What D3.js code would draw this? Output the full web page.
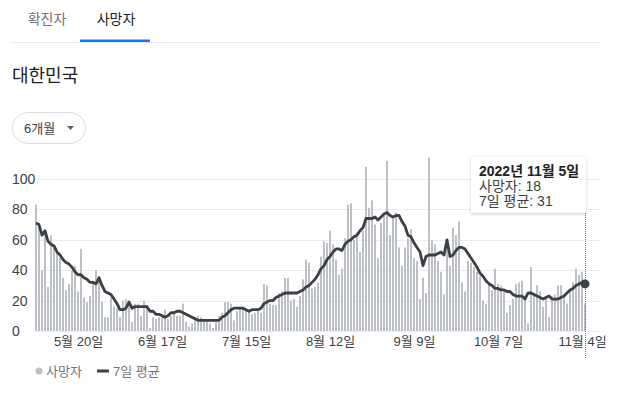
<!DOCTYPE html>
<html>
<head>
<meta charset="utf-8">
<script src="https://cdn.jsdelivr.net/npm/d3@7"></script>
<style>
  body { margin: 0; background: #fff; }
  svg { font-family: Arial, "Liberation Sans", "Noto Sans CJK KR", sans-serif; }
</style>
</head>
<body>
<div id="root"></div>
<script>
var config = {
  width: 617,
  height: 395
};

// daily deaths from 2022-05-06 to 2022-11-05
const startDate = new Date(2022, 4, 6);
const deaths = [
  83, 70, 40, 66, 29, 63, 56, 52, 48, 35,
  27, 31, 40, 43, 26, 54, 22, 19, 23, 33,
  40, 36, 19, 9, 9, 22, 16, 15, 9, 20,
  21, 20, 6, 18, 18, 10, 20, 17, 2, 9,
  8, 9, 10, 14, 8, 10, 12, 10, 10, 18,
  6, 3, 5, 7, 10, 9, 7, 8, 5, 2,
  6, 10, 12, 19, 19, 18, 7, 13, 15, 16,
  14, 14, 11, 12, 14, 12, 31, 30, 18, 17,
  17, 25, 26, 35, 35, 20, 21, 16, 23, 34,
  47, 45, 28, 29, 32, 49, 59, 58, 66, 57,
  47, 37, 41, 61, 83, 84, 60, 65, 52, 66,
  108, 81, 86, 70, 48, 71, 76, 112, 63, 75,
  78, 55, 43, 55, 61, 67, 48, 46, 21, 35,
  25, 114, 60, 57, 46, 39, 24, 60, 43, 68,
  63, 72, 32, 26, 46, 45, 42, 39, 36, 20,
  18, 31, 27, 41, 31, 30, 26, 12, 17, 21,
  31, 32, 33, 21, 5, 42, 25, 30, 26, 16,
  23, 9, 23, 24, 30, 30, 23, 18, 27, 32,
  41, 37, 39, 18
];

// 7-day average as drawn
const average = [
  71, 70, 63, 66, 59, 57, 56, 52, 50, 47,
  45, 44, 42, 39, 37, 37, 35, 34, 32, 32,
  31, 35, 30, 26, 25, 24, 21, 18, 14, 14,
  15, 19, 15, 16, 16, 16, 16, 16, 13, 13,
  11, 11, 10, 9, 10, 12, 12, 13, 13, 12,
  11, 10, 9, 8, 7, 7, 7, 7, 7, 7,
  7, 7, 9, 10, 12, 14, 15, 15, 15, 15,
  14, 13, 14, 14, 14, 15, 18, 19, 20, 20,
  22, 23, 24, 25, 25, 25, 25, 25, 26, 27,
  29, 30, 32, 34, 37, 41, 43, 47, 49, 52,
  54, 54, 53, 57, 59, 60, 62, 63, 66, 68,
  74, 74, 74, 75, 73, 75, 77, 78, 76, 75,
  76, 76, 72, 69, 63, 62, 58, 55, 52, 43,
  49, 50, 50, 50, 51, 52, 50, 60, 49, 50,
  53, 55, 55, 54, 51, 48, 45, 42, 38, 36,
  33, 31, 30, 28, 28, 27, 27, 26, 26, 24,
  23, 23, 23, 21, 25, 25, 24, 23, 22, 21,
  22, 23, 21, 21, 21, 22, 23, 25, 27, 28,
  30, 31, 32, 31
];

const yTicks = [0, 20, 40, 60, 80, 100];
const xTickDates = [
  new Date(2022, 4, 20), new Date(2022, 5, 17), new Date(2022, 6, 15),
  new Date(2022, 7, 12), new Date(2022, 8, 9), new Date(2022, 9, 7),
  new Date(2022, 10, 4)
];
const tabs = ['확진자', '사망자'];
const legendLabels = ['사망자', '7일 평균'];

const data = deaths.map((v, i) => ({
  date: d3.timeDay.offset(startDate, i),
  value: v,
  avg: average[i]
}));
const last = data[data.length - 1];

const svg = d3.select('#root')
  .append('svg')
  .attr('width', config.width)
  .attr('height', config.height);

// drop shadow for the tooltip
const defs = svg.append('defs');
defs.append('filter')
  .attr('id', 'shadow')
  .attr('x', '-10%').attr('y', '-10%')
  .attr('width', '130%').attr('height', '140%')
  .append('feDropShadow')
    .attr('dx', 0).attr('dy', 1)
    .attr('stdDeviation', 1.5)
    .attr('flood-color', '#000')
    .attr('flood-opacity', 0.2);

////// HEADER //////
svg.append('line')
  .attr('x1', 10).attr('x2', 600)
  .attr('y1', 42.5).attr('y2', 42.5)
  .attr('stroke', '#e8eaed');

svg.selectAll('.tab')
  .data(tabs)
  .enter()
    .append('text')
    .attr('x', (d, i) => i === 0 ? 47 : 116)
    .attr('y', 24)
    .attr('text-anchor', 'middle')
    .attr('font-size', 14)
    .attr('fill', (d, i) => i === 0 ? '#70757a' : '#202124')
    .text(d => d);

svg.append('rect')
  .attr('x', 80).attr('y', 39.5)
  .attr('width', 70).attr('height', 2.5)
  .attr('fill', '#1a73e8');

svg.append('text')
  .attr('x', 12).attr('y', 82)
  .attr('font-size', 18)
  .attr('fill', '#202124')
  .text('대한민국');

svg.append('rect')
  .attr('x', 12.5).attr('y', 112.5)
  .attr('width', 73).attr('height', 31)
  .attr('rx', 15.5)
  .attr('fill', '#fff')
  .attr('stroke', '#dadce0');

svg.append('text')
  .attr('x', 24).attr('y', 133)
  .attr('font-size', 13)
  .attr('fill', '#3c4043')
  .text('6개월');

svg.append('path')
  .attr('d', 'M67,126 L74,126 L70.5,130 Z')
  .attr('fill', '#5f6368');

////// CHART //////
const x = d3.scaleTime()
  .domain([startDate, last.date])
  .range([36, 585]);

const y = d3.scaleLinear()
  .domain([0, 100])
  .range([331, 179]);

// gridlines + y labels
const grid = svg.append('g');
grid.selectAll('line')
  .data(yTicks)
  .enter()
    .append('line')
    .attr('x1', 36).attr('x2', 600)
    .attr('y1', d => Math.round(y(d)) + 0.5)
    .attr('y2', d => Math.round(y(d)) + 0.5)
    .attr('stroke', '#ececec');

grid.selectAll('text')
  .data(yTicks)
  .enter()
    .append('text')
    .attr('x', 12)
    .attr('y', d => y(d))
    .attr('dy', '0.35em')
    .attr('font-size', 14)
    .attr('fill', '#3c4043')
    .text(d => d);

// bars
svg.append('g')
  .selectAll('rect')
  .data(data)
  .enter()
    .append('rect')
    .attr('x', d => x(d.date) - 1)
    .attr('y', d => y(d.value))
    .attr('width', 2)
    .attr('height', d => y(0) - y(d.value))
    .attr('fill', '#bdc1c6');

// x axis
const xAxis = svg.append('g')
  .attr('transform', `translate(0,${y(0)})`)
  .call(d3.axisBottom(x)
    .tickValues(xTickDates)
    .tickSize(0)
    .tickPadding(6)
    .tickFormat(d => `${d.getMonth() + 1}월 ${d.getDate()}일`));
xAxis.select('.domain').remove();
xAxis.selectAll('text')
  .attr('font-size', 13)
  .attr('font-family', 'Arial, "Liberation Sans", "Noto Sans CJK KR", sans-serif')
  .attr('fill', '#3c4043');

// hover line
svg.append('line')
  .attr('x1', x(last.date) + 0.5).attr('x2', x(last.date) + 0.5)
  .attr('y1', 213).attr('y2', 358)
  .attr('stroke', '#70757a')
  .attr('stroke-dasharray', '1,1');

// 7-day average line
svg.append('path')
  .datum(data)
  .attr('d', d3.line().x(d => x(d.date)).y(d => y(d.avg)))
  .attr('fill', 'none')
  .attr('stroke', '#3c4043')
  .attr('stroke-width', 2.8)
  .attr('stroke-linejoin', 'round');

svg.append('circle')
  .attr('cx', x(last.date))
  .attr('cy', y(last.avg))
  .attr('r', 4.5)
  .attr('fill', '#3c4043');

// tooltip
const tip = svg.append('g');
tip.append('rect')
  .attr('x', 471).attr('y', 157)
  .attr('width', 115).attr('height', 56)
  .attr('fill', '#fff')
  .attr('filter', 'url(#shadow)');
tip.append('text')
  .attr('x', 479).attr('y', 176)
  .attr('font-size', 14)
  .attr('font-weight', 'bold')
  .attr('fill', '#202124')
  .text(`${last.date.getFullYear()}년 ${last.date.getMonth() + 1}월 ${last.date.getDate()}일`);
tip.append('text')
  .attr('x', 479).attr('y', 191)
  .attr('font-size', 14)
  .attr('fill', '#3c4043')
  .text(`사망자: ${last.value}`);
tip.append('text')
  .attr('x', 479).attr('y', 206)
  .attr('font-size', 14)
  .attr('fill', '#3c4043')
  .text(`7일 평균: ${last.avg}`);

////// LEGEND //////
const legend = svg.append('g');
legend.append('circle')
  .attr('cx', 39).attr('cy', 371)
  .attr('r', 3.5)
  .attr('fill', '#bdc1c6');
legend.append('text')
  .attr('x', 46).attr('y', 376)
  .attr('font-size', 13)
  .attr('fill', '#70757a')
  .text(legendLabels[0]);
legend.append('line')
  .attr('x1', 97).attr('x2', 109)
  .attr('y1', 371).attr('y2', 371)
  .attr('stroke', '#3c4043')
  .attr('stroke-width', 3);
legend.append('text')
  .attr('x', 113).attr('y', 376)
  .attr('font-size', 13)
  .attr('fill', '#70757a')
  .text(legendLabels[1]);
</script>
</body>
</html>
